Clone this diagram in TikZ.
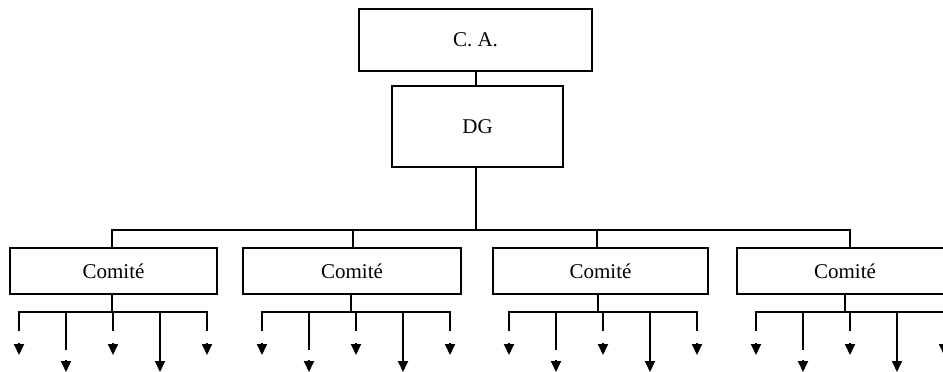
\documentclass[tikz,border=0pt]{standalone}
\usepackage{fontspec}
\setmainfont{Liberation Serif}
\usetikzlibrary{arrows.meta}
\tikzset{
  box/.style={draw, line width=1.8pt, inner sep=0pt, font=\fontsize{21}{25}\selectfont},
  conn/.style={line width=1.8pt},
  arr/.style={line width=1.8pt, -{Triangle[width=10pt,length=11pt]}},
}
\begin{document}
\begin{tikzpicture}[x=1pt,y=-1pt]
\clip (0,0) rectangle (943,372);
\fill[white] (0,0) rectangle (943,372);
\node[box, minimum width=233pt, minimum height=62pt] (ca) at (475.5,40) {C. A.};
\node[box, minimum width=171pt, minimum height=81pt] (dg) at (477.5,126.5) {DG};
\node[box, minimum width=207pt, minimum height=46pt] (c1) at (113.5,271) {Comité};
\node[box, minimum width=218pt, minimum height=46pt] (c2) at (352,271) {Comité};
\node[box, minimum width=215pt, minimum height=46pt] (c3) at (600.5,271) {Comité};
\node[box, minimum width=216pt, minimum height=46pt] (c4) at (845,271) {Comité};
\coordinate (bus) at (476,230);
\draw[conn] (ca.south -| bus) -- (dg.north -| bus);
\draw[conn] (dg.south -| bus) -- (bus);
\draw[conn] ([xshift=-1.5pt]c1.north) |- ([xshift=5pt]c4.north |- bus) -- ([xshift=5pt]c4.north);
\draw[conn] ([xshift=1pt]c2.north) -- ([xshift=1pt]c2.north |- bus);
\draw[conn] ([xshift=-3.5pt]c3.north) -- ([xshift=-3.5pt]c3.north |- bus);
% lower branches
\foreach \c/\d/\m in {c1/-1.5/113, c2/-1/356, c3/-2.5/603, c4/0/850}{
  \coordinate (s) at ([xshift=\d pt]\c.south);
  \draw[conn] (s) -- (s |- 0,312);
  \draw[conn] (\m-94,331) -- (\m-94,312) -- (\m+94,312) -- (\m+94,331);
  \draw[conn] (\m-47,312) -- (\m-47,350);
  \draw[conn] (\m,312) -- (\m,331);
  \draw[arr] (\m-94,343) -- (\m-94,355);
  \draw[arr] (\m,343) -- (\m,355);
  \draw[arr] (\m+94,343) -- (\m+94,355);
  \draw[arr] (\m-47,360) -- (\m-47,372);
  \draw[arr] (\m+47,312) -- (\m+47,372);
}
\end{tikzpicture}
\end{document}
